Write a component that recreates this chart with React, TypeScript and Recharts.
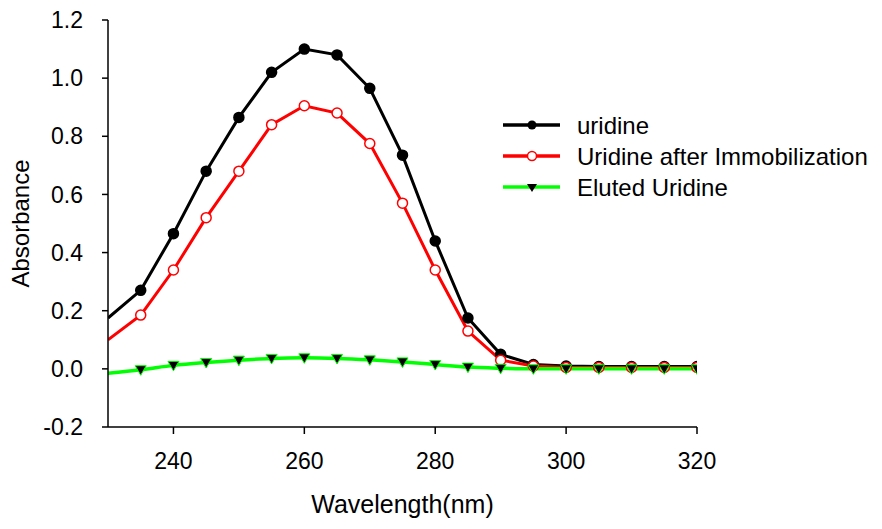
import { Line, LineChart, XAxis, YAxis } from "recharts";

const wavelengths = [230, 235, 240, 245, 250, 255, 260, 265, 270, 275, 280, 285, 290, 295, 300, 305, 310, 315, 320];
const uridine = [0.175, 0.27, 0.465, 0.68, 0.865, 1.02, 1.1, 1.08, 0.965, 0.735, 0.44, 0.175, 0.05, 0.015, 0.01, 0.008, 0.008, 0.008, 0.008];
const immobilized = [0.1, 0.185, 0.34, 0.52, 0.68, 0.84, 0.905, 0.88, 0.775, 0.57, 0.34, 0.13, 0.03, 0.01, 0.005, 0.005, 0.005, 0.005, 0.005];
const eluted = [-0.015, -0.003, 0.012, 0.022, 0.03, 0.036, 0.038, 0.036, 0.031, 0.024, 0.015, 0.006, 0.002, 0.0, 0.0, 0.0, 0.0, 0.0, 0.0];
const xTicks = [240, 260, 280, 300, 320];
const yTicks = [-0.2, 0, 0.2, 0.4, 0.6, 0.8, 1.0, 1.2];

const data = wavelengths.map((wl, i) => ({
  wl,
  uridine: uridine[i],
  immobilized: immobilized[i],
  eluted: eluted[i],
}));

const FONT = "'Liberation Sans', Arial, sans-serif";

// the first point (230) sits on the axis and has no marker in the original
const circleDot = (fill: string, stroke: string) => (props: any) => {
  const { cx, cy, payload, index } = props;
  if (payload.wl === 230) return <g key={`c${index}`} />;
  return <circle key={`c${index}`} cx={cx} cy={cy} r={5} fill={fill} stroke={stroke} strokeWidth={1.5} />;
};

const triangleDot = (props: any) => {
  const { cx, cy, payload, index } = props;
  if (payload.wl === 230) return <g key={`t${index}`} />;
  return (
    <path
      key={`t${index}`}
      d={`M${cx - 5.5},${cy - 4} L${cx + 5.5},${cy - 4} L${cx},${cy + 5.5} Z`}
      fill="#000"
      stroke="#00ff00"
      strokeWidth={1}
    />
  );
};

const legendItems = [
  { label: "uridine", color: "#000", marker: "dot" },
  { label: "Uridine after Immobilization", color: "#ff0000", marker: "open" },
  { label: "Eluted Uridine", color: "#00ff00", marker: "tri" },
];

const ChartLegend = () => (
  <svg width={382} height={100} style={{ position: "absolute", left: 500, top: 105 }}>
    {legendItems.map((it, i) => {
      const y = 20 + i * 31;
      return (
        <g key={it.label}>
          <line x1={3} x2={60} y1={y} y2={y} stroke={it.color} strokeWidth={3.5} />
          {it.marker === "dot" && <circle cx={32} cy={y} r={4.5} fill="#000" />}
          {it.marker === "open" && <circle cx={32} cy={y} r={4.5} fill="#fff" stroke="#ff0000" strokeWidth={1.5} />}
          {it.marker === "tri" && <path d={`M27,${y - 3} L37,${y - 3} L32,${y + 5} Z`} fill="#000" />}
          <text x={77} y={y + 8.5} fontSize={24} fontFamily={FONT} fill="#000">
            {it.label}
          </text>
        </g>
      );
    })}
  </svg>
);

export default function App() {
  return (
    <div style={{ position: "absolute", left: 0, top: 0, width: 882, height: 529, background: "#fff" }}>
      <LineChart
        width={882}
        height={529}
        data={data}
        margin={{ top: 20, right: 185, left: 0, bottom: 0 }}
      >
        <XAxis
          dataKey="wl"
          type="number"
          domain={[230, 320]}
          ticks={xTicks}
          allowDataOverflow
          height={102}
          stroke="#000"
          strokeWidth={1.5}
          tickSize={7}
          tickMargin={19}
          tick={{ fill: "#000", fontSize: 23, fontFamily: FONT }}
          label={{
            value: "Wavelength(nm)",
            position: "insideBottom",
            offset: 16,
            fill: "#000",
            fontSize: 25,
            fontFamily: FONT,
          }}
        />
        <YAxis
          type="number"
          domain={[-0.2, 1.2]}
          ticks={yTicks}
          allowDataOverflow
          width={108}
          stroke="#000"
          strokeWidth={1.5}
          tickSize={6}
          tickMargin={19}
          tickFormatter={(v: number) => v.toFixed(1)}
          tick={{ fill: "#000", fontSize: 23, fontFamily: FONT }}
          label={{
            value: "Absorbance",
            angle: -90,
            position: "insideLeft",
            offset: 20,
            style: { textAnchor: "middle" },
            fill: "#000",
            fontSize: 24,
            fontFamily: FONT,
          }}
        />
        <Line
          type="linear"
          dataKey="uridine"
          name="uridine"
          stroke="#000"
          strokeWidth={3}
          dot={circleDot("#000", "#000")}
          isAnimationActive={false}
        />
        <Line
          type="linear"
          dataKey="immobilized"
          name="Uridine after Immobilization"
          stroke="#ff0000"
          strokeWidth={3}
          dot={circleDot("#fff", "#ff0000")}
          isAnimationActive={false}
        />
        <Line
          type="monotone"
          dataKey="eluted"
          name="Eluted Uridine"
          stroke="#00ff00"
          strokeWidth={3.5}
          dot={triangleDot}
          isAnimationActive={false}
        />
      </LineChart>
      <ChartLegend />
    </div>
  );
}
